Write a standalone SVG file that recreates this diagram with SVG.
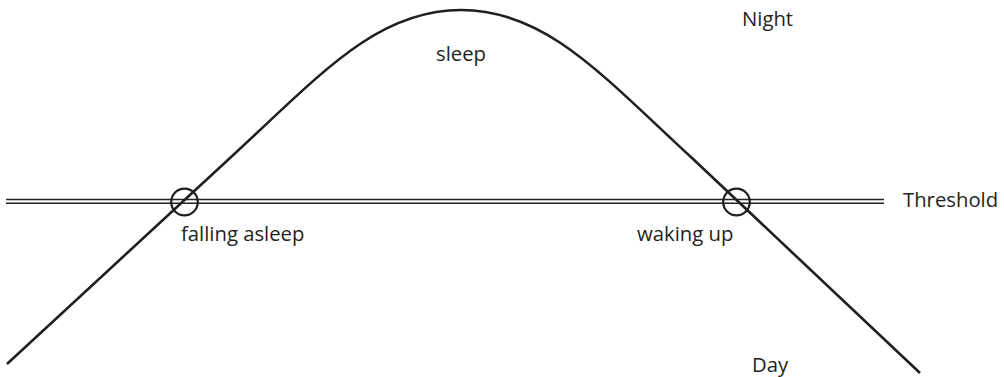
<svg xmlns="http://www.w3.org/2000/svg" width="1004" height="377" viewBox="0 0 1004 377">
<style>
.t{font-family:"Open Sans","Noto Sans","Liberation Sans",sans-serif;font-size:20.3px;fill:#231f20}
.ln{fill:none;stroke:#231f20}
</style>
<rect width="1004" height="377" fill="#ffffff"/>
<g id="connectors">
<g id="threshold-line">
<line class="ln" x1="6" y1="199.5" x2="884" y2="199.5" stroke-width="1.4"/>
<line class="ln" x1="6" y1="203.3" x2="884" y2="203.3" stroke-width="1.4"/>
</g>
<path id="curve" class="ln" stroke-width="2.6" d="M7,364 L230,158 C320,75.2 376,10 461,10 C546,10 602,75.2 692,158 L920,373"/>
</g>
<g id="falling-asleep">
<circle class="ln" cx="184.5" cy="202" r="13.3" stroke-width="2.2"/>
<text class="t" x="181" y="241">falling asleep</text>
</g>
<g id="waking-up">
<circle class="ln" cx="736.5" cy="202" r="13.3" stroke-width="2.2"/>
<text class="t" x="637" y="241">waking up</text>
</g>
<g id="sleep"><text class="t" x="436" y="61">sleep</text></g>
<g id="night"><text class="t" x="742" y="26">Night</text></g>
<g id="day"><text class="t" x="752" y="372">Day</text></g>
<g id="threshold"><text class="t" x="903" y="207">Threshold</text></g>
</svg>
